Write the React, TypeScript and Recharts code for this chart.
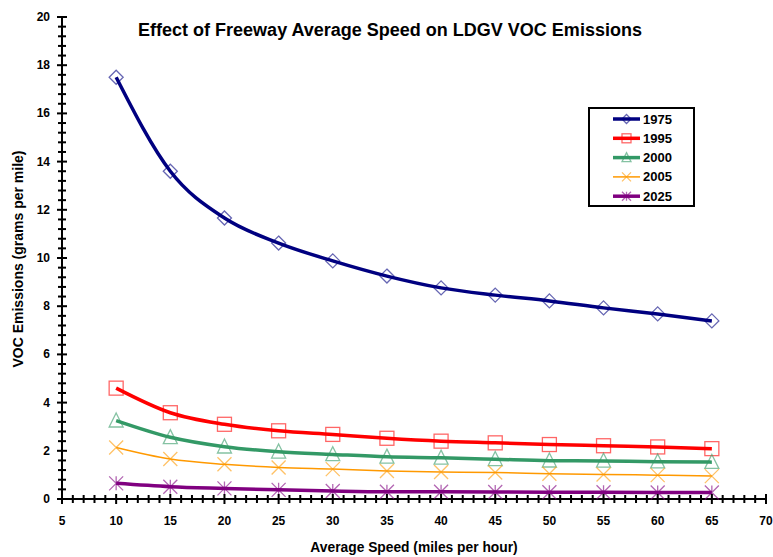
import React from 'react';
import { LineChart, Line, XAxis, YAxis } from 'recharts';

const speeds = [10, 15, 20, 25, 30, 35, 40, 45, 50, 55, 60, 65];
const voc1975 = [17.5, 13.6, 11.66, 10.62, 9.88, 9.25, 8.76, 8.46, 8.22, 7.93, 7.68, 7.39];
const voc1995 = [4.6, 3.58, 3.1, 2.83, 2.68, 2.52, 2.4, 2.33, 2.26, 2.21, 2.16, 2.09];
const voc2000 = [3.25, 2.56, 2.17, 1.96, 1.85, 1.75, 1.71, 1.65, 1.59, 1.58, 1.55, 1.53];
const voc2005 = [2.14, 1.66, 1.44, 1.31, 1.24, 1.16, 1.12, 1.1, 1.05, 1.02, 0.99, 0.95];
const voc2025 = [0.65, 0.51, 0.44, 0.38, 0.33, 0.3, 0.3, 0.29, 0.28, 0.28, 0.27, 0.27];

const xLabels = [5, 10, 15, 20, 25, 30, 35, 40, 45, 50, 55, 60, 65, 70];
const yLabels = [0, 2, 4, 6, 8, 10, 12, 14, 16, 18, 20];

// minor ticks: every 1 mph, every 0.4 g/mi
const xTicks: number[] = [];
for (let v = 5; v <= 70; v++) xTicks.push(v);
const yTicks: number[] = [];
for (let i = 0; i <= 50; i++) yTicks.push(Math.round(i * 4) / 10);

const data = speeds.map((s, i) => ({
  speed: s,
  y1975: voc1975[i],
  y1995: voc1995[i],
  y2000: voc2000[i],
  y2005: voc2005[i],
  y2025: voc2025[i],
}));

const FONT = '"Liberation Sans", Arial, sans-serif';

// plot box (margin + axis sizes below) and axis domains
const W = 773;
const H = 557;
const MARGIN = { top: 17, right: 7, bottom: 0, left: 0 };
const Y_AXIS_W = 62;
const X_AXIS_H = 58;
const X_DOMAIN: [number, number] = [5, 70];
const Y_DOMAIN: [number, number] = [0, 20];
const plotLeft = MARGIN.left + Y_AXIS_W;
const plotRight = W - MARGIN.right;
const plotTop = MARGIN.top;
const plotBottom = H - MARGIN.bottom - X_AXIS_H;
const sx = (v: number) => plotLeft + ((v - X_DOMAIN[0]) / (X_DOMAIN[1] - X_DOMAIN[0])) * (plotRight - plotLeft);
const sy = (v: number) => plotBottom - ((v - Y_DOMAIN[0]) / (Y_DOMAIN[1] - Y_DOMAIN[0])) * (plotBottom - plotTop);

type Shape = 'diamond' | 'square' | 'triangle' | 'x' | 'star';

const series: { key: string; name: string; color: string; width: number; shape: Shape }[] = [
  { key: 'y1975', name: '1975', color: '#000080', width: 3.5, shape: 'diamond' },
  { key: 'y1995', name: '1995', color: '#FF0000', width: 3.5, shape: 'square' },
  { key: 'y2000', name: '2000', color: '#339966', width: 3.5, shape: 'triangle' },
  { key: 'y2005', name: '2005', color: '#FF9900', width: 1.5, shape: 'x' },
  { key: 'y2025', name: '2025', color: '#800080', width: 3.5, shape: 'star' },
];

const Marker = ({ shape, cx, cy, color, r = 7 }: { shape: Shape; cx?: number; cy?: number; color: string; r?: number }) => {
  if (cx == null || cy == null) return null;
  const common = { fill: 'none', stroke: color, strokeWidth: 1.3, strokeOpacity: 0.6 };
  switch (shape) {
    case 'diamond':
      return <path d={`M${cx} ${cy - r} L${cx + r} ${cy} L${cx} ${cy + r} L${cx - r} ${cy} Z`} {...common} />;
    case 'square':
      return <rect x={cx - r} y={cy - r} width={r * 2} height={r * 2} {...common} />;
    case 'triangle':
      return <path d={`M${cx} ${cy - r * 1.1} L${cx + r} ${cy + r * 0.9} L${cx - r} ${cy + r * 0.9} Z`} {...common} />;
    case 'x':
      return (
        <path d={`M${cx - r} ${cy - r} L${cx + r} ${cy + r} M${cx - r} ${cy + r} L${cx + r} ${cy - r}`} {...common} />
      );
    default:
      return (
        <path
          d={`M${cx - r} ${cy - r} L${cx + r} ${cy + r} M${cx - r} ${cy + r} L${cx + r} ${cy - r} M${cx} ${cy - r} L${cx} ${cy + r}`}
          {...common}
        />
      );
  }
};

const YTick = (props: any) => {
  const { x, y, payload } = props;
  const v = payload.value;
  if (!yLabels.includes(v)) return <g />;
  return (
    <text x={x - 12} y={y} textAnchor="end" dominantBaseline="central" fontSize={12} fontFamily={FONT} fontWeight="bold" fill="#000">
      {v}
    </text>
  );
};

const XTick = (props: any) => {
  const { x, y, payload } = props;
  const v = payload.value;
  if (!xLabels.includes(v)) return <g />;
  return (
    <text x={x} y={y + 22} textAnchor="middle" dominantBaseline="central" fontSize={12} fontFamily={FONT} fontWeight="bold" fill="#000">
      {v}
    </text>
  );
};

// title, axis titles, crossing tick marks and legend box, drawn over the chart
const Overlay = () => (
  <svg width={W} height={H} style={{ position: 'absolute', left: 0, top: 0, pointerEvents: 'none' }}>
    <g fill="#000">
      {yTicks.map((v) => {
        const len = yLabels.includes(v) ? 5 : 4;
        return <rect key={`yt-${v}`} x={plotLeft - len} y={sy(v) - 1} width={len * 2} height={2} />;
      })}
      {xTicks.map((v) => {
        const len = xLabels.includes(v) ? 5 : 4;
        return <rect key={`xt-${v}`} x={sx(v) - 1} y={plotBottom - len} width={2} height={len * 2} />;
      })}
    </g>
    <text x={390} y={30} textAnchor="middle" dominantBaseline="central" fontSize={18} fontWeight="bold" fontFamily={FONT} fill="#000">
      Effect of Freeway Average Speed on LDGV VOC Emissions
    </text>
    <text x={414} y={547} textAnchor="middle" dominantBaseline="central" fontSize={13.8} fontWeight="bold" fontFamily={FONT} fill="#000">
      Average Speed (miles per hour)
    </text>
    <text
      x={18}
      y={259}
      transform="rotate(-90 18 259)"
      textAnchor="middle"
      dominantBaseline="central"
      fontSize={14}
      fontWeight="bold"
      fontFamily={FONT}
      fill="#000"
    >
      VOC Emissions (grams per mile)
    </text>
    <g transform="translate(588 107)">
      <rect x={1} y={1} width={105} height={98} fill="#fff" stroke="#000" strokeWidth={2} />
      {series.map((s, i) => {
        const y = 12 + i * 19.3;
        return (
          <g key={s.key}>
            <line x1={25} x2={52} y1={y} y2={y} stroke={s.color} strokeWidth={s.width} />
            <Marker shape={s.shape} cx={38.5} cy={y} color={s.color} r={4.5} />
            <text x={55} y={y} dominantBaseline="central" fontSize={13} fontWeight="bold" fontFamily={FONT} fill="#000">
              {s.name}
            </text>
          </g>
        );
      })}
    </g>
  </svg>
);

export default function App() {
  return (
    <div style={{ position: 'absolute', left: 0, top: 0, width: W, height: H, background: '#fff' }}>
      <LineChart width={W} height={H} data={data} margin={MARGIN}>
        <XAxis
          dataKey="speed"
          type="number"
          domain={X_DOMAIN}
          ticks={xTicks}
          interval={0}
          height={X_AXIS_H}
          tickSize={0}
          tickMargin={0}
          tickLine={false}
          tick={(p: any) => <XTick {...p} />}
          axisLine={{ stroke: '#000', strokeWidth: 2 }}
        />
        <YAxis
          type="number"
          domain={Y_DOMAIN}
          ticks={yTicks}
          interval={0}
          width={Y_AXIS_W}
          tickSize={0}
          tickMargin={0}
          tickLine={false}
          tick={(p: any) => <YTick {...p} />}
          axisLine={{ stroke: '#000', strokeWidth: 2 }}
        />
        {series.map((s) => (
          <Line
            key={s.key}
            dataKey={s.key}
            type="monotone"
            stroke={s.color}
            strokeWidth={s.width}
            isAnimationActive={false}
            activeDot={false}
            dot={(p: any) => <Marker key={`${s.key}-${p.index}`} shape={s.shape} cx={p.cx} cy={p.cy} color={s.color} />}
          />
        ))}
      </LineChart>
      <Overlay />
    </div>
  );
}
